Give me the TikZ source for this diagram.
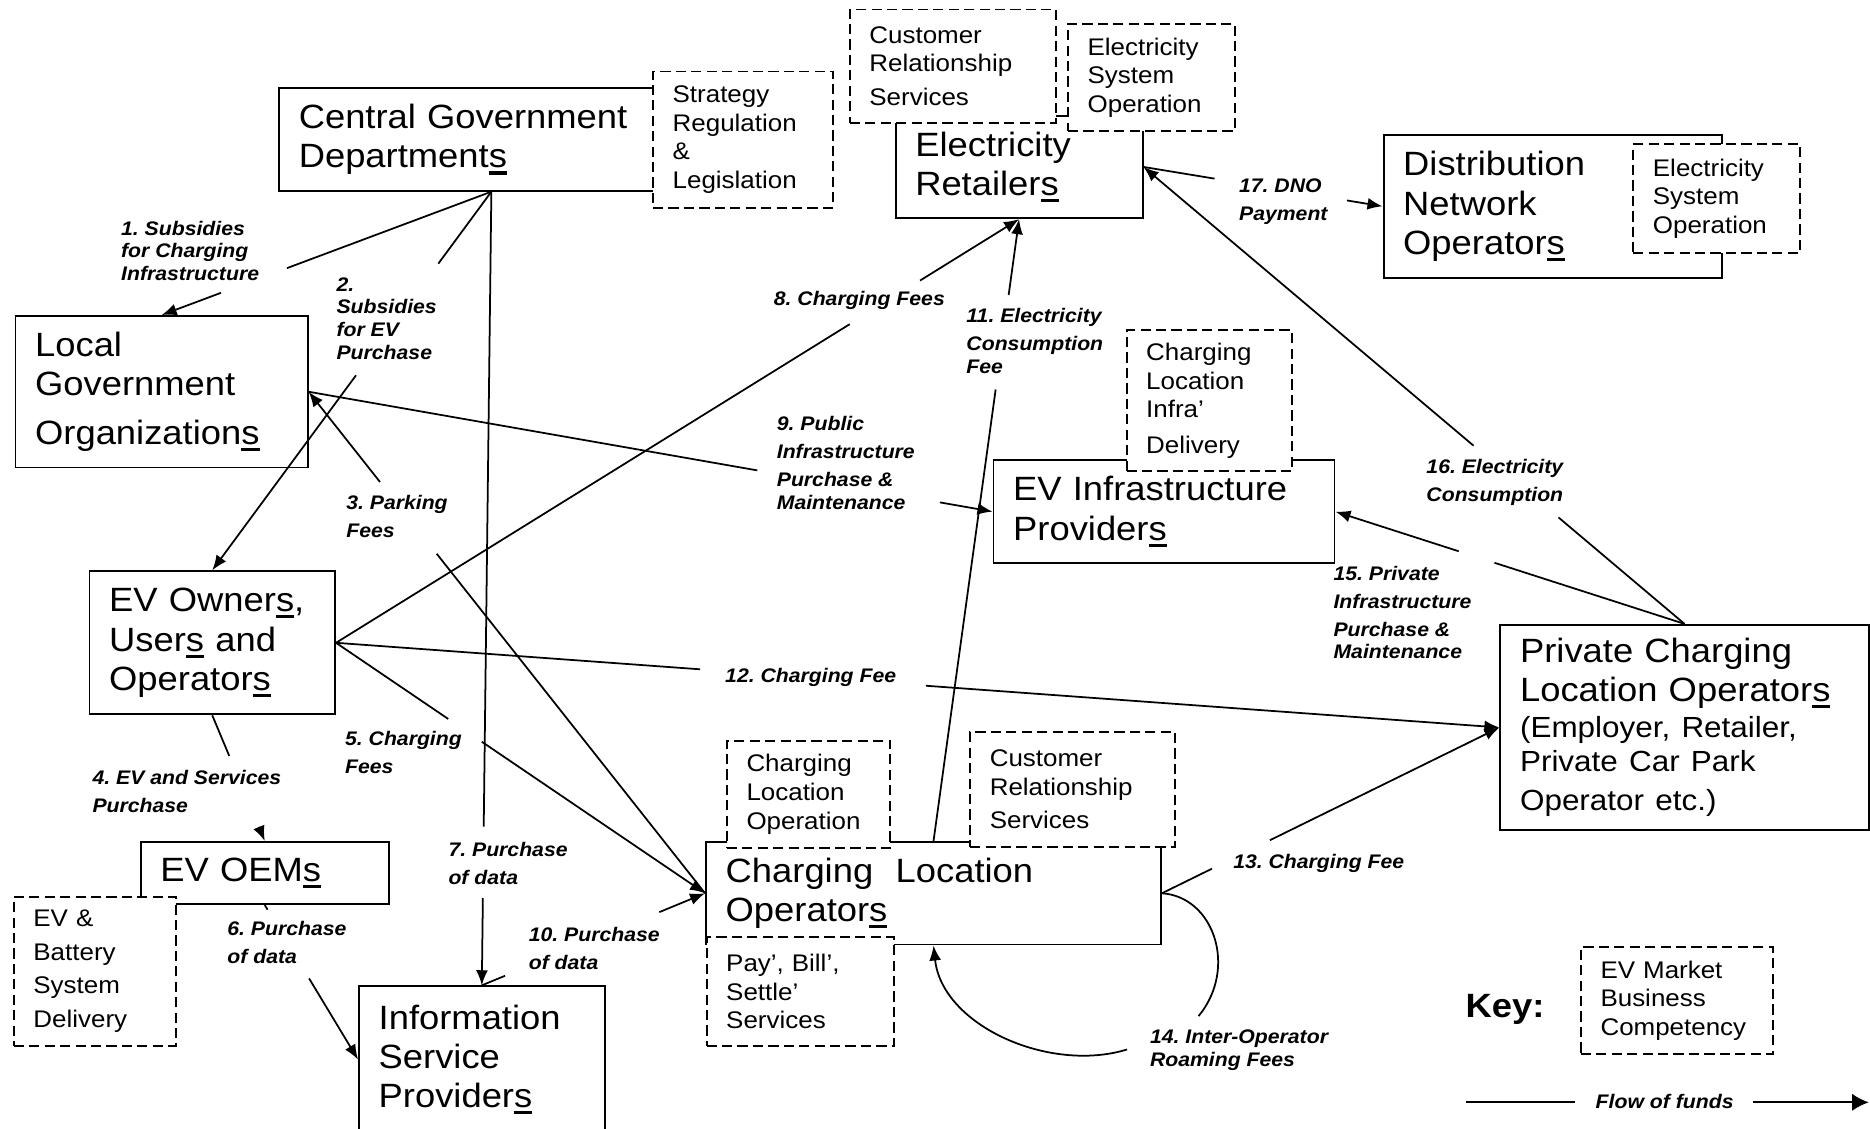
\documentclass[tikz,border=0pt]{standalone}
\usepackage{fontspec}
\setmainfont{Liberation Sans}[FakeStretch=1.08]
\usetikzlibrary{calc,arrows.meta}
\newcommand\usc[1]{\setbox0\hbox{#1}\rlap{\rule[-1.9pt]{\wd0}{0.9pt}}\box0\relax}

\begin{document}
\frenchspacing
\begin{tikzpicture}[x=0.34pt,y=-0.34pt,
  box/.style={draw,line width=.55pt,fill=white,align=left,inner xsep=5.6pt,inner ysep=0pt,font=\fontsize{9.6}{11.2}\selectfont},
  dbox/.style={box,dash pattern=on 2.9pt off 1.5pt,font=\fontsize{6.85}{8.16}\selectfont},
  lbl/.style={anchor=north west,inner sep=0pt,align=left,font=\fontsize{5.6}{6.46}\selectfont\bfseries\itshape},
  fund/.style={line width=.5pt,-{Latex[length=4.3pt,width=3.4pt]}}]

\useasboundingbox (0,0) rectangle (1568,946);

\node[box,text width=109.8pt,minimum height=29.2pt] (cgd) at (412,117) {Central Government\\Department\usc{s}};
\node[box,text width=59.2pt,minimum height=29.2pt] (ers) at (854.5,140) {Electricity\\Retailer\usc{s}};
\node[box,text width=85.3pt,minimum height=40.8pt] (dno) at (1302,173) {Distribution\\Network\\Operator\usc{s}};
\node[box,text width=72.1pt,minimum height=43.2pt] (lgo) at (135.5,328.5) {Local\\Government\\[2.7pt]Organization\usc{s}};
\node[box,text width=58.8pt,minimum height=40.8pt] (evo) at (178,539) {EV Owner\usc{s},\\User\usc{s} and\\Operator\usc{s}};
\node[box,text width=59.5pt,minimum height=17.7pt] (oem) at (222,732) {EV OEM\usc{s}};
\node[box,text width=58.8pt,minimum height=41.8pt] (isp) at (404,888.5) {Information\\Service\\Provider\usc{s}};
\node[box,text width=118.5pt,minimum height=29.2pt] (clo) at (782.75,749) {Charging~~Location\\Operator\usc{s}};
\node[box,text width=86pt,minimum height=29.2pt] (evi) at (976,429) {EV Infrastructure\\Provider\usc{s}};
\node[box,text width=93.8pt,minimum height=58.5pt] (pclo) at (1412.5,610) {Private Charging\\Location Operator\usc{s}\\[0.5pt]\fontsize{8.3}{9.7}\selectfont(Employer, Retailer,\\Private Car Park\\Operator etc.)};

\node[dbox,text width=40.1pt,minimum height=38.8pt] (strat) at (623,117) {Strategy\\Regulation\\\&\\Legislation};
\node[dbox,text width=47.6pt,minimum height=32.3pt] (crs1) at (799,55.5) {Customer\\Relationship\\[1.5pt]Services};
\node[dbox,text width=36.4pt,minimum height=30.6pt] (eso1) at (965.5,65) {Electricity\\System\\Operation};
\node[dbox,text width=36.4pt,minimum height=30.9pt] (eso2) at (1439.5,166.5) {Electricity\\System\\Operation};
\node[dbox,text width=36pt,minimum height=40.1pt] (cli) at (1014,336) {Charging\\Location\\Infra’\\[2pt]Delivery};
\node[dbox,text width=35.4pt,minimum height=30.6pt] (clop) at (678,666) {Charging\\Location\\Operation};
\node[dbox,text width=42.2pt,minimum height=30.9pt] (pay) at (671,831.5) {Pay’, Bill’,\\Settle’\\Services};
\node[dbox,text width=47.3pt,minimum height=32.6pt] (crs2) at (899.5,662) {Customer\\Relationship\\[1.4pt]Services};
\node[dbox,text width=35pt,minimum height=42.5pt] (bat) at (79.5,814.5) {EV \&\\[1.4pt]Battery\\[1.4pt]System\\[1.4pt]Delivery};
\node[dbox,text width=43.5pt,minimum height=30.6pt] (comp) at (1406,839) {EV Market\\Business\\Competency};

\draw[fund] (cgd.south) -- ($(cgd.south)!.62!(lgo.north)$) ($(cgd.south)!.82!(lgo.north)$) -- (lgo.north);
\draw[fund] (cgd.south) -- ($(cgd.south)!.19!(evo.north)$) ($(cgd.south)!.485!(evo.north)$) -- (evo.north);
\draw[fund] (clo.west) -- ($(clo.west)!.677!(lgo.east)$) ($(clo.west)!.82!(lgo.east)$) -- (lgo.east);
\draw[fund] (evo.south) -- ($(evo.south)!.323!(oem.north)$) ($(evo.south)!.888!(oem.north)$) -- (oem.north);
\draw[fund] (evo.east) -- ($(evo.east)!.304!(clo.west)$) ($(evo.east)!.395!(clo.west)$) -- (clo.west);
\draw[fund] (oem.south) -- ($(oem.south)!.03!(isp.west)$) ($(oem.south)!.475!(isp.west)$) -- (isp.west);
\draw[fund] (cgd.south) -- ($(cgd.south)!.8!(isp.north)$) ($(cgd.south)!.89!(isp.north)$) -- (isp.north);
\draw[fund] (evo.east) -- ($(evo.east)!.752!(ers.south)$) ($(evo.east)!.855!(ers.south)$) -- (ers.south);
\draw[fund] (lgo.east) -- ($(lgo.east)!.656!(evi.west)$) ($(lgo.east)!.923!(evi.west)$) -- (evi.west);
\draw[fund] (isp.north) -- ($(isp.north)!.104!(clo.west)$) ($(isp.north)!.795!(clo.west)$) -- (clo.west);
\draw[fund] (clo.north) -- ($(clo.north)!.726!(ers.south)$) ($(clo.north)!.878!(ers.south)$) -- (ers.south);
\draw[fund] (evo.east) -- ($(evo.east)!.313!(pclo.west)$) ($(evo.east)!.507!(pclo.west)$) -- (pclo.west);
\draw[fund] (clo.east) -- ($(clo.east)!.148!(pclo.west)$) ($(clo.east)!.32!(pclo.west)$) -- (pclo.west);
\coordinate (r1) at (1005,852);
\coordinate (r2) at (945,880);
\draw[fund] (clo.east) .. controls (1018,752) and (1038,812) .. (r1) (r2) .. controls (880,900) and (790,860) .. (clo.south);
\draw[fund] (pclo.north) -- ($(pclo.north)!.5445!(evi.east)$) ($(pclo.north)!.647!(evi.east)$) -- (evi.east);
\draw[fund] (pclo.north) -- ($(pclo.north)!.233!(ers.east)$) ($(pclo.north)!.39!(ers.east)$) -- (ers.east);
\draw[fund] (ers.east) -- ($(ers.east)!.297!(dno.west)$) ($(ers.east)!.851!(dno.west)$) -- (dno.west);

\node[lbl] (l1) at (101,184.8) {1. Subsidies\\for Charging\\Infrastructure};
\node[lbl] (l2) at (281.6,232) {2.\\Subsidies\\for EV\\Purchase};
\node[lbl] (l3) at (289.8,414.7) {3. Parking\\[1.5pt]Fees};
\node[lbl] (l4) at (77,645.2) {4. EV and Services\\[1.5pt]Purchase};
\node[lbl] (l5) at (288.8,613) {5. Charging\\[1.5pt]Fees};
\node[lbl] (l6) at (190.1,771.9) {6. Purchase\\[1.5pt]of data};
\node[lbl] (l7) at (375.5,705.9) {7. Purchase\\[1.5pt]of data};
\node[lbl] (l8) at (648.3,244) {8. Charging Fees};
\node[lbl] (l9) at (650.8,348.8) {9. Public\\[1.5pt]Infrastructure\\[1.5pt]Purchase \&\\Maintenance};
\node[lbl] (l10) at (442.8,776.7) {10. Purchase\\[1.5pt]of data};
\node[lbl] (l11) at (809.8,258) {11. Electricity\\[1.5pt]Consumption\\Fee};
\node[lbl] (l12) at (607.5,559.7) {12. Charging Fee};
\node[lbl] (l13) at (1033.5,715.3) {13. Charging Fee};
\node[lbl] (l14) at (963.7,863) {14. Inter-Operator\\Roaming Fees};
\node[lbl] (l15) at (1117.6,474.2) {15. Private\\[1.5pt]Infrastructure\\[1.5pt]Purchase \&\\Maintenance};
\node[lbl] (l16) at (1195.5,384.8) {16. Electricity\\[1.5pt]Consumption};
\node[lbl] (l17) at (1038.4,149.7) {17. DNO\\[1.5pt]Payment};

\node[anchor=north west,inner sep=0pt,font=\fontsize{9.6}{11}\selectfont\bfseries] (key) at (1228.3,833.2) {Key:};
\node[lbl] (fof) at (1337.4,916.7) {Flow of funds};
\coordinate (k1) at (1229,924.3);
\coordinate (k2) at (1320.6,924.3);
\coordinate (k3) at (1470,924.3);
\coordinate (k4) at (1567,924.3);
\draw[line width=.65pt] (k1) -- (k2);
\draw[line width=.65pt,-{Latex[length=4.8pt,width=5pt]}] (k3) -- (k4);

\end{tikzpicture}
\end{document}
